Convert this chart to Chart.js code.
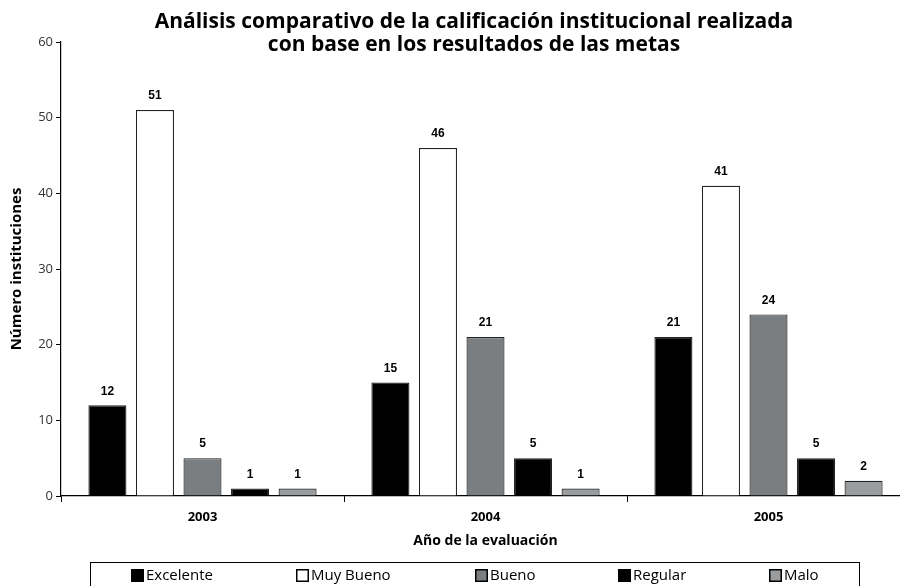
<!DOCTYPE html>
<html>
<head>
<meta charset="utf-8">
<script src="https://cdn.jsdelivr.net/npm/chart.js@4/dist/chart.umd.min.js"></script>
<style>
  html, body { margin: 0; padding: 0; background: #fff; overflow: hidden; }
  #wrap { width: 900px; height: 586px; overflow: hidden; }
</style>
</head>
<body>
<div id="wrap"><canvas id="barChart" width="912" height="586"></canvas></div>
<script>
// chart data
const years = ['2003', '2004', '2005'];
const excelente = [12, 15, 21];
const muyBueno = [51, 46, 41];
const bueno = [5, 21, 24];
const regular = [1, 5, 5];
const malo = [1, 1, 2];
const seriesNames = ['Excelente', 'Muy Bueno', 'Bueno', 'Regular', 'Malo'];
const yTicks = [0, 10, 20, 30, 40, 50, 60];
const titleLines = ['Análisis comparativo de la calificación institucional realizada',
    'con base en los resultados de las metas'];

const fills = ['#000000', '#ffffff', '#7b7e81', '#000000', '#9a9da0'];
const FONT = "'Open Sans', 'Noto Sans', sans-serif";

// value labels above each bar
const valueLabels = {
    id: 'valueLabels',
    afterDatasetsDraw(chart) {
        const ctx = chart.ctx;
        ctx.save();
        ctx.font = 'bold 12px Arial, "Liberation Sans", sans-serif';
        ctx.fillStyle = '#000';
        ctx.textAlign = 'center';
        ctx.textBaseline = 'bottom';
        chart.data.datasets.forEach((ds, i) => {
            chart.getDatasetMeta(i).data.forEach((bar, j) => {
                ctx.fillText(ds.data[j], bar.x, bar.y - 8);
            });
        });
        ctx.restore();
    }
};

// title and boxed legend
const decorations = {
    id: 'decorations',
    afterDraw(chart) {
        const ctx = chart.ctx;
        ctx.save();
        ctx.fillStyle = '#000';
        ctx.textAlign = 'center';
        ctx.textBaseline = 'middle';
        ctx.font = 'bold 21px ' + FONT;
        titleLines.forEach((t, i) => ctx.fillText(t, 474, 22 + i * 23));

        // legend box
        ctx.strokeStyle = '#000';
        ctx.lineWidth = 1;
        ctx.strokeRect(90.5, 562.5, 769, 40);
        const xs = [131, 296, 475, 618, 769];
        ctx.font = '15px ' + FONT;
        ctx.textAlign = 'left';
        chart.data.datasets.forEach((ds, i) => {
            const x = xs[i];
            ctx.fillStyle = ds.backgroundColor;
            ctx.fillRect(x, 569, 13, 13);
            ctx.strokeStyle = '#000';
            ctx.lineWidth = 1.5;
            ctx.strokeRect(x + 0.75, 569.75, 11.5, 11.5);
            ctx.fillStyle = '#000';
            ctx.fillText(ds.label, x + 15, 576);
        });
        ctx.restore();
    }
};

const ctx = document.getElementById('barChart').getContext('2d');
const seriesData = [excelente, muyBueno, bueno, regular, malo];

new Chart(ctx, {
    type: 'bar',
    data: {
        labels: years,
        datasets: seriesNames.map((name, i) => ({
            label: name,
            data: seriesData[i],
            backgroundColor: fills[i],
            borderColor: '#222',
            borderWidth: 1.2,
            categoryPercentage: 0.84,
            barPercentage: 0.8
        }))
    },
    options: {
        responsive: false,
        animation: false,
        layout: { padding: { top: 42, right: 2, bottom: 30, left: 0 } },
        plugins: {
            legend: { display: false },
            tooltip: { enabled: false },
            title: { display: false }
        },
        scales: {
            x: {
                grid: { display: true, drawOnChartArea: false, drawTicks: true, tickLength: 6, color: '#000', offset: true },
                border: { color: '#000', width: 1.2 },
                ticks: { color: '#000', font: { family: FONT, size: 13, weight: 'bold' }, padding: 7 },
                title: {
                    display: true,
                    text: 'Año de la evaluación',
                    color: '#000',
                    font: { family: FONT, size: 14, weight: 'bold' },
                    padding: { top: 0, bottom: 7 }
                },
                afterFit(scale) { scale.height = 60; }
            },
            y: {
                min: 0,
                max: 60,
                afterBuildTicks(scale) { scale.ticks = yTicks.map(v => ({ value: v })); },
                grid: { display: true, drawOnChartArea: false, drawTicks: true, tickLength: 5, color: '#000' },
                border: { color: '#000', width: 1.2 },
                ticks: { color: '#333', font: { family: FONT, size: 13 }, padding: 3 },
                title: {
                    display: true,
                    text: 'Número instituciones',
                    color: '#000',
                    font: { family: FONT, size: 15, weight: 'bold' },
                    padding: { top: 8, bottom: 0 }
                },
                afterFit(scale) { scale.width = 61; }
            }
        }
    },
    plugins: [valueLabels, decorations]
});
</script>
</body>
</html>
